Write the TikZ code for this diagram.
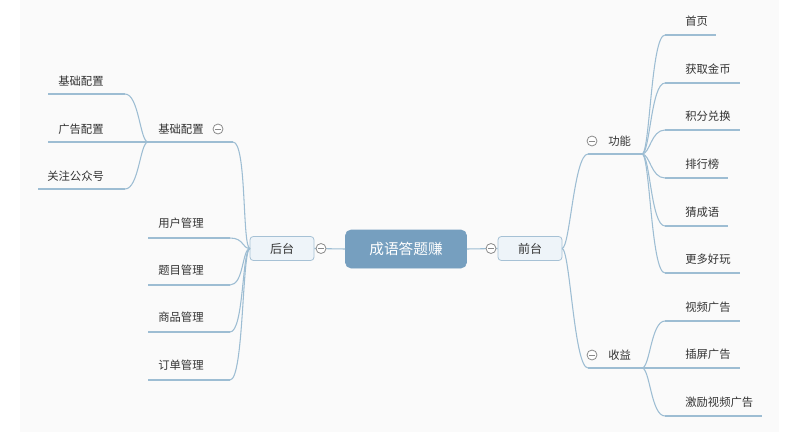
\documentclass[tikz,border=0pt]{standalone}
\usepackage{fontspec}
\newfontfamily\cjk{Noto Sans CJK SC}
\definecolor{bgc}{HTML}{FAFAFA}
\definecolor{linec}{HTML}{9DBDD3}
\definecolor{mainc}{HTML}{769FBF}
\definecolor{subfill}{HTML}{EEF4F9}
\definecolor{subdraw}{HTML}{A6C1D5}
\definecolor{txt}{HTML}{333333}
\definecolor{circc}{HTML}{8A8A8A}
\tikzset{
  conn/.style={draw=linec, line width=0.8pt},
  leaf/.style={anchor=west, inner sep=0pt, text=txt, font=\cjk\fontsize{8.5}{10}\selectfont},
  mainbox/.style={fill=mainc, draw=mainc, rounded corners=4pt, minimum width=90.75pt, minimum height=28.5pt, text=white, font=\cjk\fontsize{11}{13}\selectfont, inner sep=0pt},
  subbox/.style={fill=subfill, draw=subdraw, line width=0.6pt, rounded corners=2.5pt, minimum width=48pt, minimum height=18pt, text=txt, font=\cjk\fontsize{9}{11}\selectfont, inner sep=0pt},
  fold/.style={circle, draw=circc, fill=white, line width=0.6pt, minimum size=7.5pt, inner sep=0pt, path picture={\draw[circc, line width=0.6pt] ([xshift=-2.2pt]path picture bounding box.center) -- ([xshift=2.2pt]path picture bounding box.center);}},
}
\newcommand{\rcurve}[2]{\draw[conn] (#1) .. controls +(8,0) and +(-14,0) .. (#2);}
\newcommand{\lcurve}[2]{\draw[conn] (#1) .. controls +(-8,0) and +(14,0) .. (#2);}
\begin{document}
\begin{tikzpicture}[x=0.75pt,y=-0.75pt]
\useasboundingbox (0,0) rectangle (789,432);
\fill[white] (0,0) rectangle (789,432);
\fill[bgc] (20,0) rectangle (779,432);

% main nodes
\node[mainbox] (root) at (406,249) {成语答题赚};
\node[subbox] (front) at (530,248.5) {前台};
\node[subbox] (back) at (282,248.5) {后台};
\draw[conn] (root.east) -- (front.west);
\draw[conn] (root.west) -- (back.east);
\node[fold] (ffold) at (491,248.5) {};
\node[fold] (bfold) at (321,248.5) {};

% ---------- right side ----------
\coordinate (fj) at (562,248.5);
% 功能
\coordinate (gs) at (588,154); \coordinate (ge) at (642,154);
\node[leaf] (gong) at (608,141) {功能};
\node[fold] (gfold) at (592,141) {};
\rcurve{fj}{gs}
\draw[conn] (gs) -- (ge);
% 收益
\coordinate (ss) at (588,368); \coordinate (se) at (642,368);
\node[leaf] (shou) at (608,355) {收益};
\node[fold] (sfold) at (592,355) {};
\rcurve{fj}{ss}
\draw[conn] (ss) -- (se);

% 功能 children
\foreach \n/\t/\y/\e in {r1/首页/35/716, r2/获取金币/83/740, r3/积分兑换/130/740, r4/排行榜/178/728, r5/猜成语/226/728, r6/更多好玩/273/740}{
  \coordinate (\n s) at (665,\y);
  \coordinate (\n e) at (\e,\y);
  \node[leaf] (\n) at (685,\y-14) {\t};
  \rcurve{ge}{\n s}
  \draw[conn] (\n s) -- (\n e);
}
% 收益 children
\foreach \n/\t/\y/\e in {q1/视频广告/321/740, q2/插屏广告/368/740, q3/激励视频广告/416/762}{
  \coordinate (\n s) at (665,\y);
  \coordinate (\n e) at (\e,\y);
  \node[leaf] (\n) at (685,\y-14) {\t};
  \rcurve{se}{\n s}
  \draw[conn] (\n s) -- (\n e);
}

% ---------- left side ----------
\coordinate (bj) at (250,248.5);
% 基础配置 (group)
\coordinate (js) at (148,142); \coordinate (je) at (233,142);
\node[leaf] (jichu) at (158,129) {基础配置};
\node[fold] (jfold) at (218,129) {};
\lcurve{bj}{je}
\draw[conn] (je) -- (js);
\foreach \n/\t/\y/\s/\tx in {l1/基础配置/94/48/58, l2/广告配置/142/48/58, l3/关注公众号/189/38/47}{
  \coordinate (\n s) at (\s,\y);
  \coordinate (\n e) at (125,\y);
  \node[leaf] (\n) at (\tx,\y-13) {\t};
  \lcurve{js}{\n e}
  \draw[conn] (\n e) -- (\n s);
}
% management leaves
\foreach \n/\t/\y in {m1/用户管理/238, m2/题目管理/285, m3/商品管理/332, m4/订单管理/380}{
  \coordinate (\n s) at (148,\y);
  \coordinate (\n e) at (230,\y);
  \node[leaf] (\n) at (158,\y-15) {\t};
  \lcurve{bj}{\n e}
  \draw[conn] (\n e) -- (\n s);
}
\end{tikzpicture}
\end{document}
